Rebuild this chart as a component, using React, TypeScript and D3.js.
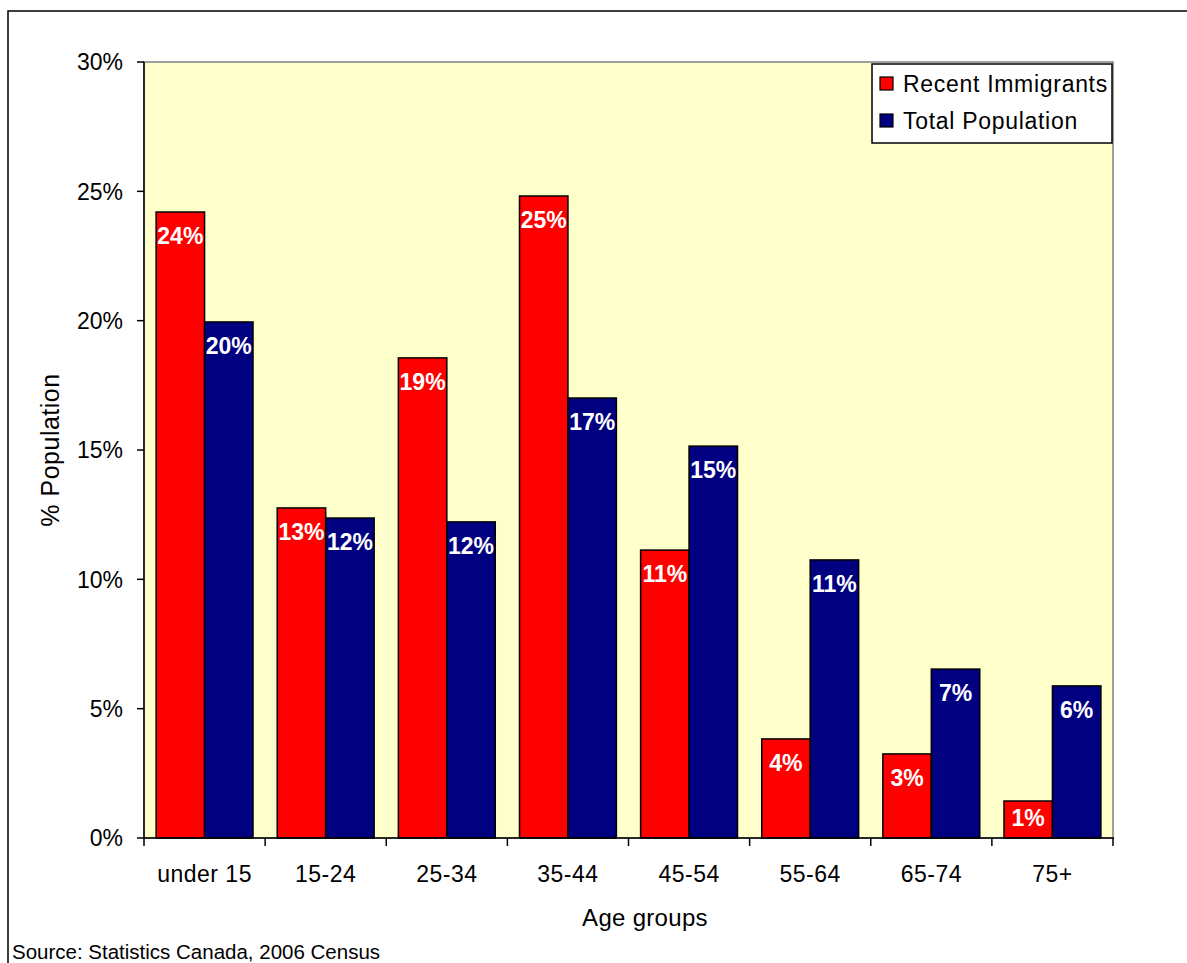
import React from "react";
import * as d3 from "d3";

const categories = ["under 15", "15-24", "25-34", "35-44", "45-54", "55-64", "65-74", "75+"];
const seriesNames = ["Recent Immigrants", "Total Population"];
const recentImmigrants = [0.242, 0.1276, 0.1856, 0.2482, 0.1113, 0.0383, 0.0325, 0.0143];
const totalPopulation = [0.1995, 0.1237, 0.1222, 0.1701, 0.1515, 0.1075, 0.0653, 0.0588];
const yTicks = [0, 0.05, 0.1, 0.15, 0.2, 0.25, 0.3];
const seriesColors = ["#FF0000", "#000080"];
const sourceNote = "Source: Statistics Canada, 2006 Census";

const W = 1187;
const H = 963;
const plot = { left: 144, right: 1113, top: 62, bottom: 838 };
const FONT = "'Liberation Sans', Arial, Helvetica, sans-serif";

export default function App() {
  const x0 = d3
    .scaleBand<string>()
    .domain(categories)
    .range([plot.left, plot.right])
    .paddingInner(0)
    .paddingOuter(0);
  // two bars per group, half a bar width of gap on each side
  const inner = d3
    .scaleBand<number>()
    .domain([0, 1])
    .range([0, x0.bandwidth()])
    .paddingOuter(0.25)
    .paddingInner(0);
  const y = d3.scaleLinear().domain([0, 0.3]).range([plot.bottom, plot.top]);
  const pct = d3.format(".0%");

  const series = [recentImmigrants, totalPopulation];

  return (
    <svg
      width={W}
      height={H}
      style={{ position: "absolute", left: 0, top: 0, background: "#fff" }}
      fontFamily={FONT}
    >
      {/* chart area frame */}
      <rect x={8} y={11} width={W + 20} height={H + 20} fill="#fff" stroke="#000" strokeWidth={1.5} />

      {/* plot area */}
      <rect
        x={plot.left}
        y={plot.top}
        width={plot.right - plot.left}
        height={plot.bottom - plot.top}
        fill="#FFFFCC"
        stroke="#A0A0A0"
        strokeWidth={2}
      />

      {/* bars */}
      {series.map((vals, si) =>
        vals.map((v, i) => {
          const bx = (x0(categories[i]) as number) + (inner(si) as number);
          const bw = inner.bandwidth();
          const top = y(v);
          return (
            <rect
              key={`b-${si}-${i}`}
              x={bx}
              y={top}
              width={bw}
              height={plot.bottom - top}
              fill={seriesColors[si]}
              stroke="#000"
              strokeWidth={1.5}
            />
          );
        })
      )}

      {/* value labels */}
      {series.map((vals, si) =>
        vals.map((v, i) => {
          const cx = (x0(categories[i]) as number) + (inner(si) as number) + inner.bandwidth() / 2;
          const top = y(v);
          const baseline = Math.min(top + 32, plot.bottom - 12);
          return (
            <text
              key={`l-${si}-${i}`}
              x={cx}
              y={baseline}
              textAnchor="middle"
              fill="#fff"
              fontWeight="bold"
              fontSize={23}
            >
              {pct(v)}
            </text>
          );
        })
      )}

      {/* y axis */}
      <line x1={plot.left} x2={plot.left} y1={plot.top} y2={plot.bottom} stroke="#000" strokeWidth={1.5} />
      {yTicks.map((t) => (
        <g key={`yt-${t}`}>
          <line x1={plot.left - 7} x2={plot.left} y1={y(t)} y2={y(t)} stroke="#000" strokeWidth={1.5} />
          <text x={123} y={y(t)} dy="0.36em" textAnchor="end" fontSize={23} fill="#000">
            {pct(t)}
          </text>
        </g>
      ))}

      {/* x axis */}
      <line x1={plot.left} x2={plot.right + 1} y1={plot.bottom} y2={plot.bottom} stroke="#000" strokeWidth={1.5} />
      {[...categories.map((c) => x0(c) as number), plot.right].map((tx, i) => (
        <line key={`xt-${i}`} x1={tx} x2={tx} y1={plot.bottom} y2={plot.bottom + 8} stroke="#000" strokeWidth={1.5} />
      ))}
      {categories.map((c) => (
        <text
          key={`xl-${c}`}
          x={(x0(c) as number) + x0.bandwidth() / 2}
          y={882}
          textAnchor="middle"
          fontSize={23}
          letterSpacing={0.5}
          fill="#000"
        >
          {c}
        </text>
      ))}

      {/* axis titles */}
      <text x={645} y={926} textAnchor="middle" fontSize={24} letterSpacing={0.3} fill="#000">
        Age groups
      </text>
      <text
        transform={`translate(59, ${(plot.top + plot.bottom) / 2}) rotate(-90)`}
        textAnchor="middle"
        fontSize={25}
        letterSpacing={0.5}
        fill="#000"
      >
        % Population
      </text>

      {/* legend */}
      <g>
        <rect x={872} y={64} width={240} height={79} fill="#fff" stroke="#000" strokeWidth={1.5} />
        {seriesNames.map((name, i) => (
          <g key={`lg-${name}`} transform={`translate(0, ${i * 37})`}>
            <rect x={880} y={77} width={13} height={13} fill={seriesColors[i]} stroke="#000" strokeWidth={1.2} />
            <text x={903} y={92} fontSize={23} letterSpacing={0.7} fill="#000">
              {name}
            </text>
          </g>
        ))}
      </g>

      {/* source note */}
      <text x={12} y={959} fontSize={20.5} fill="#000">
        {sourceNote}
      </text>
    </svg>
  );
}
